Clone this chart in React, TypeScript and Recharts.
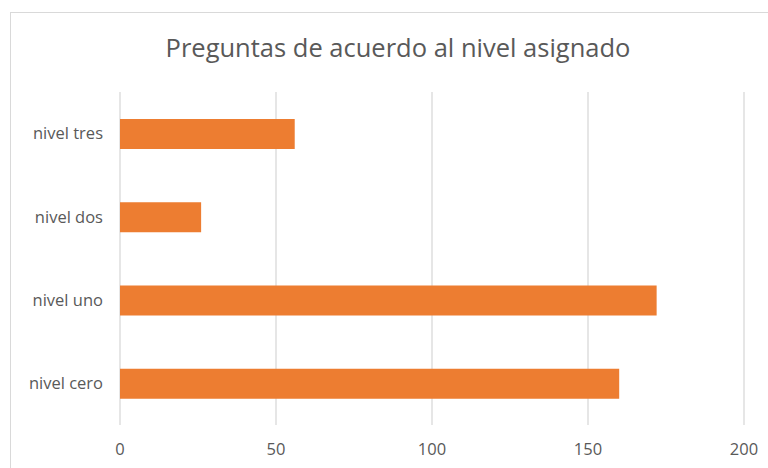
import React from "react";
import { BarChart, Bar, XAxis, YAxis, CartesianGrid } from "recharts";

const categories = ["nivel tres", "nivel dos", "nivel uno", "nivel cero"];
const values = [56, 26, 172, 160];
const xTicks = [0, 50, 100, 150, 200];
const title = "Preguntas de acuerdo al nivel asignado";

const data = categories.map((name, i) => ({ name, value: values[i] }));

const FONT = "'Open Sans', 'Noto Sans', sans-serif";
const GREY_TEXT = "#595959";

export default function App() {
  return (
    <div style={{ position: "absolute", left: 0, top: 0, width: 768, height: 468, background: "#fff", overflow: "hidden", fontFamily: FONT }}>
      <div style={{ position: "absolute", left: 10, top: 12, width: 800, height: 500, border: "1px solid #d9d9d9", boxSizing: "border-box" }} />
      <div style={{ position: "absolute", left: 0, top: 27, width: 796, textAlign: "center", fontSize: 25.5, color: GREY_TEXT, lineHeight: "40px" }}>
        {title}
      </div>
      <div style={{ position: "absolute", left: 0, top: 0 }}>
        <BarChart
          width={768}
          height={468}
          data={data}
          layout="vertical"
          margin={{ top: 92, right: 24, bottom: 13, left: 0 }}
        >
          <CartesianGrid horizontal={false} vertical={true} stroke="#d9d9d9" strokeWidth={1.3} />
          <XAxis
            type="number"
            domain={[0, 200]}
            ticks={xTicks}
            axisLine={false}
            tickLine={false}
            tickSize={0}
            tickMargin={18}
            height={30}
            tick={{ fill: GREY_TEXT, fontSize: 16.5, fontFamily: FONT }}
            interval={0}
          />
          <YAxis
            type="category"
            dataKey="name"
            width={120}
            axisLine={false}
            tickLine={false}
            tickSize={0}
            tickMargin={17}
            tick={{ fill: GREY_TEXT, fontSize: 16.5, fontFamily: FONT }}
            interval={0}
          />
          <Bar dataKey="value" fill="#ED7D31" barSize={30} isAnimationActive={false} />
        </BarChart>
      </div>
    </div>
  );
}
